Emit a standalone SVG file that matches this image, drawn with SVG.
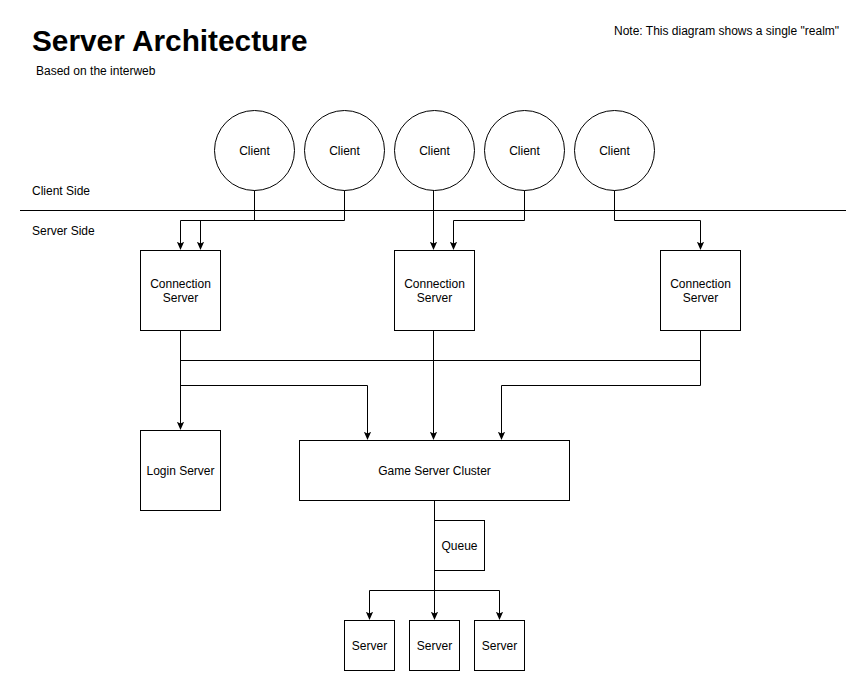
<svg xmlns="http://www.w3.org/2000/svg" width="867" height="692" viewBox="0 0 867 692">
<defs>
<style>
.n{fill:#fff;stroke:#000;stroke-width:1}
.t{font-family:"Liberation Sans",Arial,sans-serif;font-size:12px;fill:#000}
.c{text-anchor:middle;dominant-baseline:central}
.e{fill:none;stroke:#000;stroke-width:1}
</style>
<marker id="a" viewBox="0 0 10 10" refX="8" refY="5" markerWidth="9" markerHeight="9" markerUnits="userSpaceOnUse" orient="auto">
<path d="M0,1 L9,5 L0,9 L2,5 Z" fill="#000"/>
</marker>
</defs>
<rect width="867" height="692" fill="#fff"/>
<text x="32" y="51" font-family="'Liberation Sans',Arial,sans-serif" font-size="29.8" font-weight="bold">Server Architecture</text>
<text class="t" x="36" y="75">Based on the interweb</text>
<text class="t" x="614" y="35">Note: This diagram shows a single "realm"</text>
<text class="t" x="32" y="195">Client Side</text>
<text class="t" x="32" y="235">Server Side</text>
<line x1="20" y1="210.5" x2="846" y2="210.5" stroke="#000" stroke-width="1"/>
<g id="connectors">
<path class="e" d="M254.5 190V220.5H180.5V249" marker-end="url(#a)"/>
<path class="e" d="M344.5 190V220.5H200.5V249" marker-end="url(#a)"/>
<path class="e" d="M433.5 190V249" marker-end="url(#a)"/>
<path class="e" d="M524.5 190V220.5H453.5V249" marker-end="url(#a)"/>
<path class="e" d="M614.5 190V220.5H700.5V249" marker-end="url(#a)"/>
<path class="e" d="M180.5 330V429" marker-end="url(#a)"/>
<path class="e" d="M180.5 360.5H700.5V330"/>
<path class="e" d="M180.5 385.5H367.5V439" marker-end="url(#a)"/>
<path class="e" d="M433.5 330V439" marker-end="url(#a)"/>
<path class="e" d="M700.5 360V385.5H501.5V439" marker-end="url(#a)"/>
<path class="e" d="M434.5 500V619" marker-end="url(#a)"/>
<path class="e" d="M434.5 590.5H369.5V619" marker-end="url(#a)"/>
<path class="e" d="M434.5 590.5H499.5V619" marker-end="url(#a)"/>
</g>
<g id="client1"><circle class="n" cx="254.5" cy="150.5" r="40"/><text class="t c" x="254.5" y="150.5">Client</text></g>
<g id="client2"><circle class="n" cx="344.5" cy="150.5" r="40"/><text class="t c" x="344.5" y="150.5">Client</text></g>
<g id="client3"><circle class="n" cx="434.5" cy="150.5" r="40"/><text class="t c" x="434.5" y="150.5">Client</text></g>
<g id="client4"><circle class="n" cx="524.5" cy="150.5" r="40"/><text class="t c" x="524.5" y="150.5">Client</text></g>
<g id="client5"><circle class="n" cx="614.5" cy="150.5" r="40"/><text class="t c" x="614.5" y="150.5">Client</text></g>
<g id="conn1"><rect class="n" x="140.5" y="250.5" width="80" height="80"/><text class="t c" x="180.5" y="283.5">Connection</text><text class="t c" x="180.5" y="297.5">Server</text></g>
<g id="conn2"><rect class="n" x="394.5" y="250.5" width="80" height="80"/><text class="t c" x="434.5" y="283.5">Connection</text><text class="t c" x="434.5" y="297.5">Server</text></g>
<g id="conn3"><rect class="n" x="660.5" y="250.5" width="80" height="80"/><text class="t c" x="700.5" y="283.5">Connection</text><text class="t c" x="700.5" y="297.5">Server</text></g>
<g id="login"><rect class="n" x="140.5" y="430.5" width="80" height="80"/><text class="t c" x="180.5" y="470.5">Login Server</text></g>
<g id="cluster"><rect class="n" x="299.5" y="440.5" width="270" height="60"/><text class="t c" x="434.5" y="470.5">Game Server Cluster</text></g>
<g id="queue"><rect class="n" x="434.5" y="520.5" width="50" height="50"/><text class="t c" x="459.5" y="545.5">Queue</text></g>
<g id="server1"><rect class="n" x="344.5" y="620.5" width="50" height="50"/><text class="t c" x="369.5" y="645.5">Server</text></g>
<g id="server2"><rect class="n" x="409.5" y="620.5" width="50" height="50"/><text class="t c" x="434.5" y="645.5">Server</text></g>
<g id="server3"><rect class="n" x="474.5" y="620.5" width="50" height="50"/><text class="t c" x="499.5" y="645.5">Server</text></g>
</svg>
